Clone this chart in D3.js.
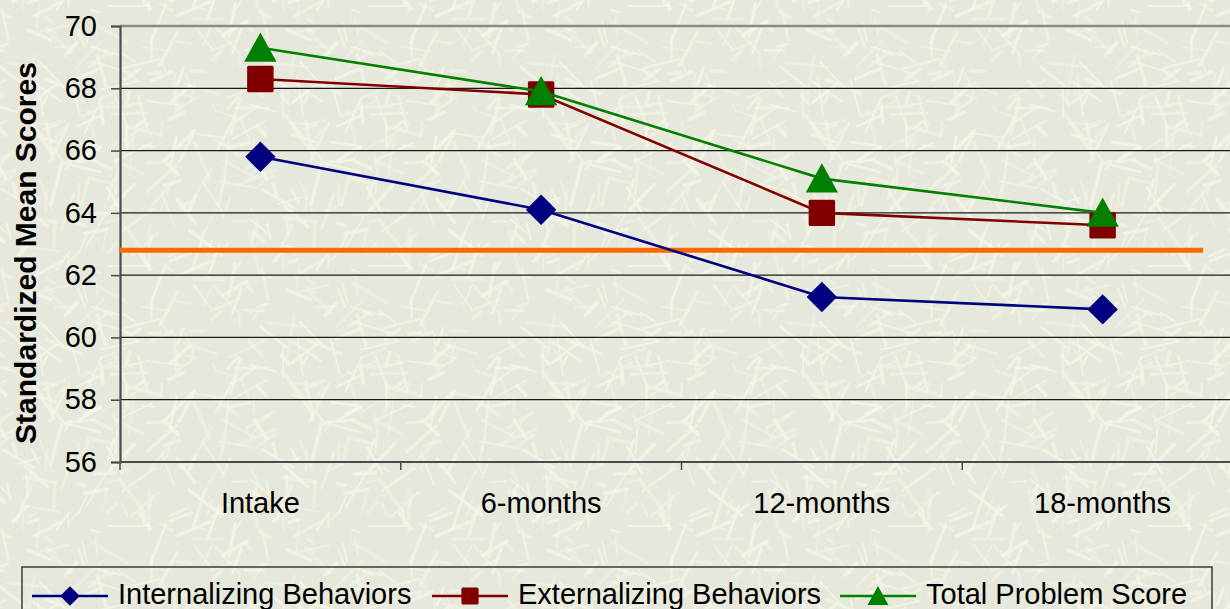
<!DOCTYPE html>
<html>
<head>
<meta charset="utf-8">
<script src="https://cdn.jsdelivr.net/npm/d3@7"></script>
<style>
  html, body { margin: 0; padding: 0; background: #e8e9dd; }
  svg { display: block; }
  text { font-family: Arial, "Liberation Sans", sans-serif; fill: #000; }
</style>
</head>
<body>
<svg id="chart" width="1230" height="609"></svg>
<script>
// ---- data ----
const categories = ["Intake", "6-months", "12-months", "18-months"];
const internalizing = [65.8, 64.1, 61.3, 60.9];
const externalizing = [68.3, 67.8, 64.0, 63.6];
const totalProblem = [69.3, 67.9, 65.1, 64.0];
const seriesNames = ["Internalizing Behaviors", "Externalizing Behaviors", "Total Problem Score"];
const yTicks = [56, 58, 60, 62, 64, 66, 68, 70];
const clinicalCutoff = 62.8;

const W = 1230, H = 609;
const svg = d3.select("#chart");

// ---- textured paper background (seeded so it is stable) ----
const defs = svg.append("defs");
const tile = 260;
const pat = defs.append("pattern")
  .attr("id", "paper").attr("patternUnits", "userSpaceOnUse")
  .attr("width", tile).attr("height", tile);
pat.append("rect").attr("width", tile).attr("height", tile).attr("fill", "#e7e8dc");
defs.append("filter").attr("id", "soft")
  .append("feGaussianBlur").attr("stdDeviation", 0.7);
let seed = 1234567;
const rnd = () => { seed = (seed * 1103515245 + 12345) % 2147483648; return seed / 2147483648; };
const g0 = pat.append("g").attr("filter", "url(#soft)");
for (let i = 0; i < 230; i++) {
  const cx = rnd() * tile, cy = rnd() * tile;
  const len = 8 + rnd() * 34, a = rnd() * Math.PI;
  const dx = Math.cos(a) * len / 2, dy = Math.sin(a) * len / 2;
  for (const ox of [-tile, 0, tile]) for (const oy of [-tile, 0, tile]) {
    g0.append("line")
      .attr("x1", cx - dx + ox).attr("y1", cy - dy + oy)
      .attr("x2", cx + dx + ox).attr("y2", cy + dy + oy)
      .attr("stroke", "#f5f6e8")
      .attr("stroke-width", 2 + (i % 3) * 0.8)
      .attr("stroke-linecap", "round")
      .attr("opacity", 0.4 + 0.4 * ((i * 7) % 5) / 4);
  }
}
svg.append("rect").attr("width", W).attr("height", H).attr("fill", "url(#paper)");

// ---- scales ----
const plot = { left: 120, right: 1243, top: 26, bottom: 462 };
const x = d3.scaleBand().domain(categories).range([plot.left, plot.right]);
const y = d3.scaleLinear().domain([56, 70]).range([plot.bottom, plot.top]);
const cx = c => x(c) + x.bandwidth() / 2;

// ---- gridlines ----
svg.append("g")
  .selectAll("line").data(yTicks.filter(t => t > 56 && t < 70)).join("line")
  .attr("x1", plot.left).attr("x2", W)
  .attr("y1", d => y(d)).attr("y2", d => y(d))
  .attr("stroke", "#1a1a1a").attr("stroke-width", 1.2);
// top frame of the plot area
svg.append("line")
  .attr("x1", plot.left).attr("x2", W)
  .attr("y1", y(70)).attr("y2", y(70))
  .attr("stroke", "#8a8a8a").attr("stroke-width", 2.5);

// ---- y axis ----
const yAxis = svg.append("g")
  .attr("transform", `translate(${plot.left},0)`)
  .call(d3.axisLeft(y).tickValues(yTicks).tickSize(9).tickPadding(14).tickFormat(d3.format("d")));
yAxis.select(".domain").attr("stroke", "#4a4a4a").attr("stroke-width", 2.2);
yAxis.selectAll(".tick line").attr("stroke", "#4a4a4a").attr("stroke-width", 1.5);
yAxis.selectAll(".tick text").attr("font-size", 29).attr("fill", "#000")
  .attr("font-family", "Arial, 'Liberation Sans', sans-serif");

// ---- x axis ----
svg.append("line")
  .attr("x1", plot.left).attr("x2", W)
  .attr("y1", plot.bottom).attr("y2", plot.bottom)
  .attr("stroke", "#4a4a4a").attr("stroke-width", 2.2);
svg.append("g").selectAll("line").data(categories).join("line")
  .attr("x1", d => x(d)).attr("x2", d => x(d))
  .attr("y1", plot.bottom).attr("y2", plot.bottom + 8)
  .attr("stroke", "#4a4a4a").attr("stroke-width", 1.5);
svg.append("g").selectAll("text").data(categories).join("text")
  .attr("x", d => cx(d)).attr("y", 513)
  .attr("text-anchor", "middle").attr("font-size", 29)
  .text(d => d);

// axis title
svg.append("text")
  .attr("transform", "translate(36,253) rotate(-90)")
  .attr("text-anchor", "middle").attr("font-size", 30).attr("font-weight", "bold")
  .text("Standardized Mean Scores");

// ---- reference line ----
svg.append("line")
  .attr("x1", plot.left).attr("x2", plot.right - 40)
  .attr("y1", y(clinicalCutoff)).attr("y2", y(clinicalCutoff))
  .attr("stroke", "#ff6a00").attr("stroke-width", 5);

// ---- series ----
const series = [
  { name: seriesNames[0], values: internalizing, color: "#000080", shape: "diamond", size: 380 },
  { name: seriesNames[1], values: externalizing, color: "#800000", shape: "square", size: 700 },
  { name: seriesNames[2], values: totalProblem, color: "#008000", shape: "triangle", size: 420 }
];
const line = d3.line().x((d, i) => cx(categories[i])).y(d => y(d));

function marker(sel, s, scale) {
  if (s.shape === "diamond") {
    const r = Math.sqrt(s.size * scale) * 0.78;
    sel.append("path").attr("d", `M0,${-r}L${r},0L0,${r}L${-r},0Z`).attr("fill", s.color);
  } else if (s.shape === "square") {
    const h = Math.sqrt(s.size * scale) / 2;
    sel.append("rect").attr("x", -h).attr("y", -h).attr("width", 2 * h).attr("height", 2 * h)
      .attr("rx", 1.5).attr("fill", s.color);
  } else {
    const r = Math.sqrt(s.size * scale) * 0.75;
    sel.append("path").attr("d", `M0,${-r}L${r * 1.05},${r * 0.9}L${-r * 1.05},${r * 0.9}Z`).attr("fill", s.color);
  }
}

series.forEach(s => {
  const g = svg.append("g");
  g.append("path").datum(s.values).attr("d", line)
    .attr("fill", "none").attr("stroke", s.color).attr("stroke-width", 2.6);
  s.values.forEach((v, i) => {
    const m = g.append("g").attr("transform", `translate(${cx(categories[i])},${y(v)})`);
    marker(m, s, 1);
  });
});

// ---- legend ----
const legend = svg.append("g");
legend.append("rect")
  .attr("x", 22).attr("y", 567).attr("width", 1190).attr("height", 60)
  .attr("fill", "none").attr("stroke", "#3a3a3a").attr("stroke-width", 1.5);
const legendX = [32, 432, 840];
series.forEach((s, i) => {
  const g = legend.append("g").attr("transform", `translate(${legendX[i]},596)`);
  g.append("line").attr("x1", 0).attr("x2", 76).attr("y1", 0).attr("y2", 0)
    .attr("stroke", s.color).attr("stroke-width", 2.6);
  const m = g.append("g").attr("transform", "translate(38,0)");
  marker(m, s, 0.42);
  g.append("text").attr("x", 86).attr("y", 8).attr("font-size", 29).text(s.name);
});
</script>
</body>
</html>
